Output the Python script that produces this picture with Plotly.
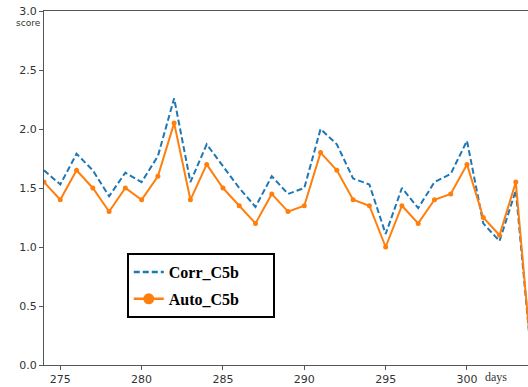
import plotly.graph_objects as go

# Daily scores for the two C5b variants
days = list(range(274, 305))
corr_c5b = [1.65, 1.53, 1.79, 1.65, 1.43, 1.63, 1.55, 1.77, 2.26, 1.55,
            1.87, 1.68, 1.50, 1.34, 1.60, 1.45, 1.50, 2.00, 1.87, 1.58,
            1.53, 1.11, 1.50, 1.33, 1.55, 1.62, 1.90, 1.20, 1.05, 1.48,
            0.00]
auto_c5b = [1.55, 1.40, 1.65, 1.50, 1.30, 1.50, 1.40, 1.60, 2.05, 1.40,
            1.70, 1.50, 1.35, 1.20, 1.45, 1.30, 1.35, 1.80, 1.65, 1.40,
            1.35, 1.00, 1.35, 1.20, 1.40, 1.45, 1.70, 1.25, 1.10, 1.55,
            0.00]
x_ticks = [275, 280, 285, 290, 295, 300]
y_ticks = [0.0, 0.5, 1.0, 1.5, 2.0, 2.5, 3.0]

BLUE = "#1f77b4"
ORANGE = "#ff7f0e"
AXIS = "#555555"
TICKFONT = dict(family="DejaVu Sans", size=11, color="#333333")
PAD = "\u00a0" * 7  # right-hand room inside the legend box

fig = go.Figure()

fig.add_trace(go.Scatter(
    x=days, y=corr_c5b, mode="lines", name="Corr_C5b", showlegend=False,
    line=dict(color=BLUE, width=2, dash="6px,3px"),
))
fig.add_trace(go.Scatter(
    x=days, y=auto_c5b, mode="lines+markers", name="Auto_C5b", showlegend=False,
    line=dict(color=ORANGE, width=2),
    marker=dict(color=ORANGE, size=5),
))

# Legend entries with a larger marker symbol
fig.add_trace(go.Scatter(
    x=[None], y=[None], mode="lines", name="Corr_C5b" + PAD, legendgroup="corr",
    line=dict(color=BLUE, width=2.5, dash="6px,3px"),
))
fig.add_trace(go.Scatter(
    x=[None], y=[None], mode="lines+markers", name="Auto_C5b" + PAD, legendgroup="auto",
    line=dict(color=ORANGE, width=2.5),
    marker=dict(color=ORANGE, size=11),
))

fig.update_layout(
    width=528, height=387,
    margin=dict(l=44, r=0, t=11, b=22),
    paper_bgcolor="white", plot_bgcolor="white",
    showlegend=True,
    legend=dict(
        x=0.171, y=0.316, xanchor="left", yanchor="top",
        bgcolor="white", bordercolor="black", borderwidth=2,
        font=dict(family="Liberation Serif", size=16, color="black", weight="bold"),
        traceorder="grouped", tracegroupgap=3,
    ),
    xaxis=dict(
        range=[274, 303.75], tickmode="array", tickvals=x_ticks,
        showgrid=False, zeroline=False,
        showline=True, linecolor=AXIS, linewidth=1.3, mirror=True,
        ticks="outside", ticklen=4, tickcolor=AXIS, tickwidth=1,
        tickfont=TICKFONT,
    ),
    yaxis=dict(
        range=[0, 3.0], tickmode="array", tickvals=y_ticks, tickformat=".1f",
        showgrid=False, zeroline=False,
        showline=True, linecolor=AXIS, linewidth=1.3,
        ticks="outside", ticklen=4, tickcolor=AXIS, tickwidth=1,
        tickfont=TICKFONT,
    ),
    annotations=[
        dict(text="score", xref="paper", yref="paper", x=-0.033, y=0.965,
             xanchor="center", yanchor="middle", showarrow=False,
             font=dict(family="DejaVu Sans", size=9, color="#333333")),
        dict(text="days", xref="paper", yref="paper", x=0.934, y=-0.033,
             xanchor="center", yanchor="middle", showarrow=False,
             font=dict(family="Liberation Serif", size=12, color="#333333")),
    ],
)

fig.write_html("out.html")
